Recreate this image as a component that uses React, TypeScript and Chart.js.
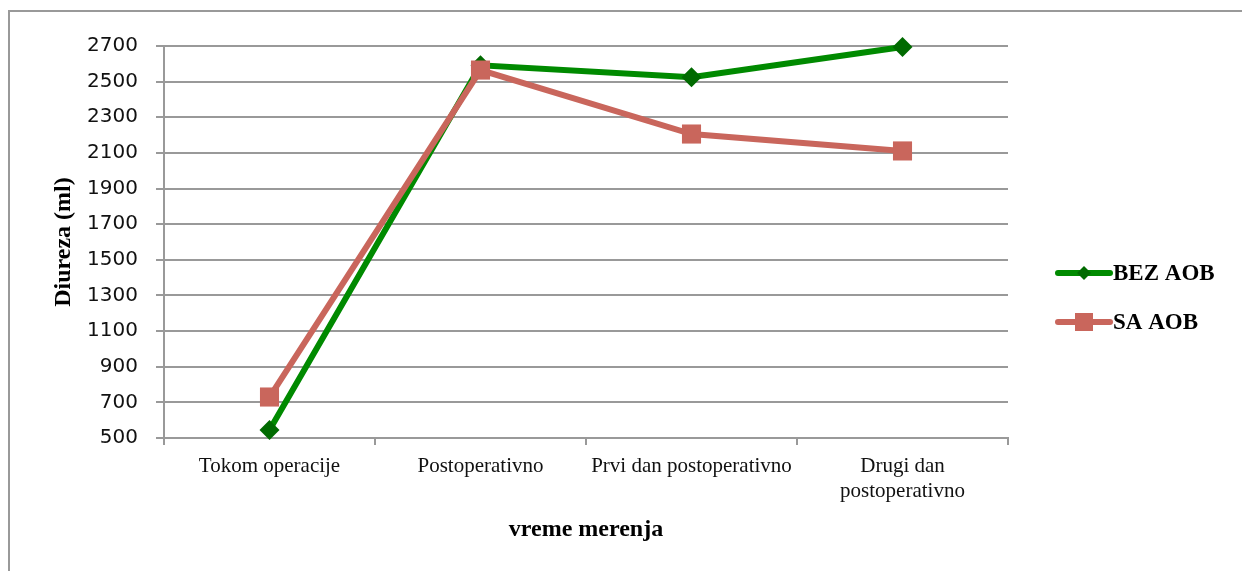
import React, { useEffect, useRef } from "react";
import { Chart, registerables } from "chart.js";

Chart.register(...registerables);

const categories: (string | string[])[] = [
  "Tokom operacije",
  "Postoperativno",
  "Prvi dan postoperativno",
  ["Drugi dan", "postoperativno"],
];
const bezAob = [545, 2592, 2525, 2694];
const saAob = [730, 2565, 2206, 2111];
const seriesNames = ["BEZ AOB", "SA AOB"];
const yMin = 500;
const yMax = 2700;
const yStep = 200;

const GREEN = "#008a00";
const GREEN_DARK = "#006a00";
const RED = "#c9665c";
const GRID = "#999999";
const SERIF = "'Liberation Serif', 'Times New Roman', serif";

const decorPlugin = {
  id: "decor",
  beforeDraw(chart: any) {
    const ctx = chart.ctx;
    ctx.save();
    ctx.fillStyle = "#ffffff";
    ctx.fillRect(0, 0, chart.width, chart.height);
    ctx.strokeStyle = GRID;
    ctx.lineWidth = 2;
    ctx.beginPath();
    ctx.moveTo(9, chart.height);
    ctx.lineTo(9, 11);
    ctx.lineTo(chart.width, 11);
    ctx.stroke();
    ctx.restore();
  },
  afterDraw(chart: any) {
    const ctx = chart.ctx;
    ctx.save();
    const items = [
      { name: seriesNames[0], color: GREEN, fill: GREEN_DARK, shape: "diamond", y: 273 },
      { name: seriesNames[1], color: RED, fill: RED, shape: "square", y: 322 },
    ];
    items.forEach((it) => {
      ctx.strokeStyle = it.color;
      ctx.lineWidth = 6;
      ctx.lineCap = "round";
      ctx.beginPath();
      ctx.moveTo(1058, it.y);
      ctx.lineTo(1110, it.y);
      ctx.stroke();
      ctx.fillStyle = it.fill;
      const cx = 1084;
      if (it.shape === "diamond") {
        ctx.beginPath();
        ctx.moveTo(cx - 7, it.y);
        ctx.lineTo(cx, it.y - 7);
        ctx.lineTo(cx + 7, it.y);
        ctx.lineTo(cx, it.y + 7);
        ctx.closePath();
        ctx.fill();
      } else {
        ctx.fillRect(cx - 9, it.y - 9, 18, 18);
      }
      ctx.fillStyle = "#000000";
      ctx.font = "bold 23px " + SERIF;
      ctx.textBaseline = "middle";
      ctx.textAlign = "left";
      ctx.fillText(it.name, 1113, it.y + 1);
    });
    ctx.restore();
  },
};

export default function App() {
  const ref = useRef<HTMLCanvasElement | null>(null);

  useEffect(() => {
    if (!ref.current) return;
    const chart = new Chart(ref.current, {
      type: "line",
      data: {
        labels: categories,
        datasets: [
          {
            label: seriesNames[0],
            data: bezAob,
            borderColor: GREEN,
            backgroundColor: GREEN_DARK,
            borderWidth: 6,
            pointStyle: "rectRot",
            pointRadius: 10,
            pointBorderWidth: 0,
            pointBackgroundColor: GREEN_DARK,
            clip: false,
            order: 1,
          },
          {
            label: seriesNames[1],
            data: saAob,
            borderColor: RED,
            backgroundColor: RED,
            borderWidth: 6,
            pointStyle: "rect",
            pointRadius: 13.5,
            pointBorderWidth: 0,
            pointBackgroundColor: RED,
            clip: false,
            order: 0,
          },
        ],
      },
      options: {
        animation: false,
        responsive: false,
        devicePixelRatio: 1,
        layout: { padding: { left: 0, right: 234, top: 46, bottom: 0 } },
        plugins: {
          legend: { display: false },
          tooltip: { enabled: false },
        },
        scales: {
          x: {
            offset: true,
            grid: {
              offset: true,
              drawOnChartArea: false,
              drawTicks: true,
              tickLength: 7,
              color: GRID,
              lineWidth: 2,
            },
            border: { display: true, color: GRID, width: 2 },
            ticks: {
              color: "#111111",
              font: { family: SERIF, size: 21 },
              padding: 9,
              maxRotation: 0,
              autoSkip: false,
            },
            title: {
              display: true,
              text: "vreme merenja",
              color: "#000000",
              font: { family: SERIF, size: 24, weight: "bold" },
              padding: { top: 0, bottom: 27 },
            },
            afterFit(scale: any) {
              scale.height = 133;
            },
          },
          y: {
            min: yMin,
            max: yMax,
            ticks: {
              stepSize: yStep,
              color: "#111111",
              font: { family: "'DejaVu Sans', sans-serif", size: 20 },
              padding: 18,
              callback: (v: any) => String(v),
            },
            grid: {
              color: GRID,
              lineWidth: 2,
              tickLength: 8,
            },
            border: { display: true, color: GRID, width: 2 },
            title: {
              display: true,
              text: "Diureza (ml)",
              color: "#000000",
              font: { family: SERIF, size: 24, weight: "bold" },
              padding: { top: 49, bottom: 0 },
            },
            afterFit(scale: any) {
              scale.width = 164;
            },
          },
        },
      },
      plugins: [decorPlugin],
    });
    return () => chart.destroy();
  }, []);

  return (
    <div style={{ position: "absolute", left: 0, top: 0, width: 1242, height: 571 }}>
      <canvas ref={ref} width={1242} height={571} style={{ display: "block" }} />
    </div>
  );
}
